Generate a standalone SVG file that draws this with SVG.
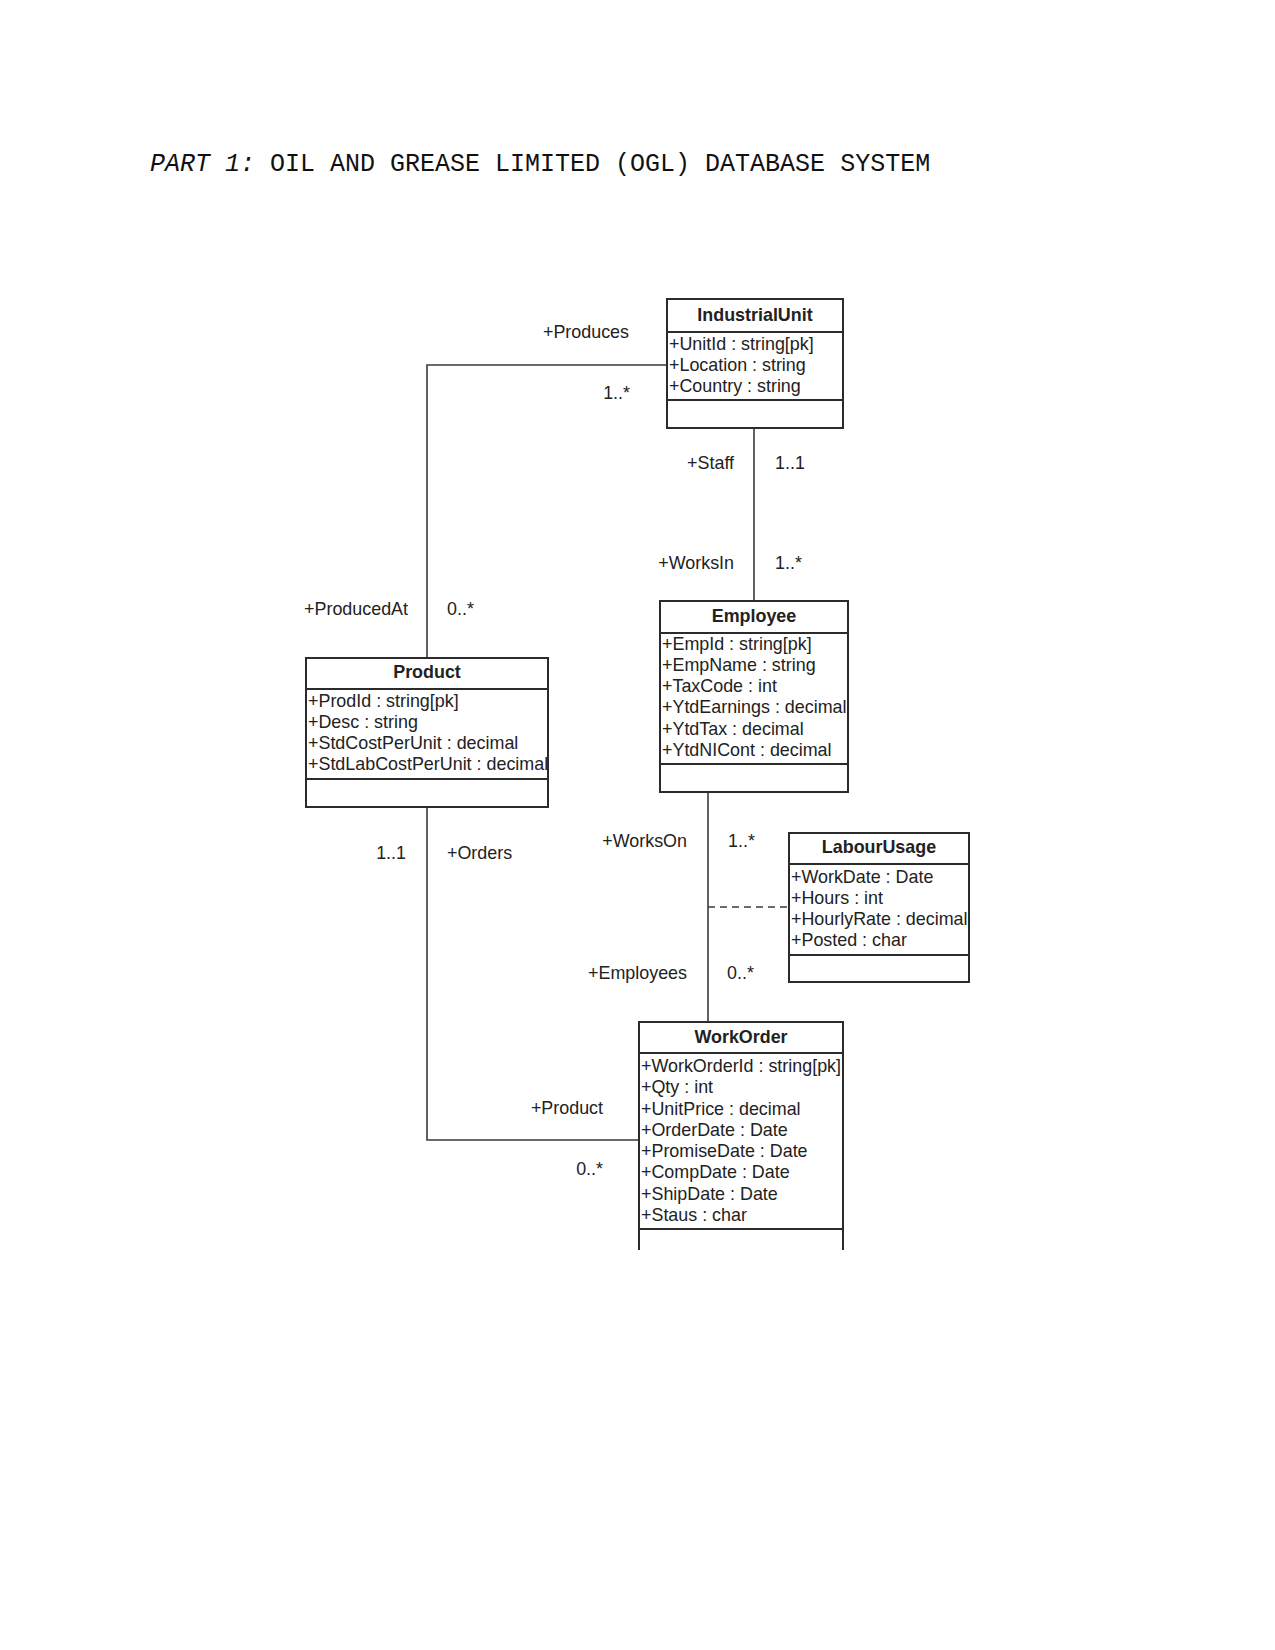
<svg xmlns="http://www.w3.org/2000/svg" width="1275" height="1650" viewBox="0 0 1275 1650">
<style>
.box{fill:#fff;stroke:#2b2b2b;stroke-width:2}
.sep{stroke:#2b2b2b;stroke-width:2}
.con{fill:none;stroke:#3a3a3a;stroke-width:1.6}
.dash{fill:none;stroke:#3a3a3a;stroke-width:1.6;stroke-dasharray:7,5}
.t{font-family:"Liberation Sans",Arial,sans-serif;font-size:17.9px;fill:#222}
.h{font-family:"Liberation Sans",Arial,sans-serif;font-size:17.9px;font-weight:bold;fill:#222;text-anchor:middle}
.r{text-anchor:end}
.title{font-family:"Liberation Mono","Courier New",monospace;font-size:25px;fill:#111}
</style>
<rect width="1275" height="1650" fill="#fff"/>
<text class="title" x="150" y="171"><tspan font-style="italic">PART 1:</tspan> OIL AND GREASE LIMITED (OGL) DATABASE SYSTEM</text>

<g id="connectors">
<path class="con" d="M667,365 H427 V658"/>
<path class="con" d="M754,428 V601"/>
<path class="con" d="M427,807 V1140 H639"/>
<path class="con" d="M708,792 V1022"/>
<path class="dash" d="M708,907 H789"/>
<text class="t r" x="629" y="338">+Produces</text>
<text class="t r" x="630" y="399">1..*</text>
<text class="t r" x="734" y="469">+Staff</text>
<text class="t" x="775" y="469">1..1</text>
<text class="t r" x="734" y="569">+WorksIn</text>
<text class="t" x="775" y="569">1..*</text>
<text class="t r" x="408" y="615">+ProducedAt</text>
<text class="t" x="447" y="615">0..*</text>
<text class="t r" x="406" y="859">1..1</text>
<text class="t" x="447" y="859">+Orders</text>
<text class="t r" x="687" y="847">+WorksOn</text>
<text class="t" x="728" y="847">1..*</text>
<text class="t r" x="687" y="979">+Employees</text>
<text class="t" x="727" y="979">0..*</text>
<text class="t r" x="603" y="1114">+Product</text>
<text class="t r" x="603" y="1175">0..*</text>
</g>

<g id="IndustrialUnit">
<rect class="box" x="667" y="299" width="176" height="129"/>
<line class="sep" x1="667" y1="332" x2="843" y2="332"/>
<line class="sep" x1="667" y1="400" x2="843" y2="400"/>
<text class="h" x="755" y="321">IndustrialUnit</text>
<text class="t" x="669" y="350">+UnitId : string[pk]</text>
<text class="t" x="669" y="371">+Location : string</text>
<text class="t" x="669" y="392">+Country : string</text>
</g>

<g id="Product">
<rect class="box" x="306" y="658" width="242" height="149"/>
<line class="sep" x1="306" y1="689" x2="548" y2="689"/>
<line class="sep" x1="306" y1="779" x2="548" y2="779"/>
<text class="h" x="427" y="678">Product</text>
<text class="t" x="308" y="707">+ProdId : string[pk]</text>
<text class="t" x="308" y="728">+Desc : string</text>
<text class="t" x="308" y="749">+StdCostPerUnit : decimal</text>
<text class="t" x="308" y="770">+StdLabCostPerUnit : decimal</text>
</g>

<g id="Employee">
<rect class="box" x="660" y="601" width="188" height="191"/>
<line class="sep" x1="660" y1="633" x2="848" y2="633"/>
<line class="sep" x1="660" y1="764" x2="848" y2="764"/>
<text class="h" x="754" y="622">Employee</text>
<text class="t" x="662" y="650">+EmpId : string[pk]</text>
<text class="t" x="662" y="671">+EmpName : string</text>
<text class="t" x="662" y="692">+TaxCode : int</text>
<text class="t" x="662" y="713">+YtdEarnings : decimal</text>
<text class="t" x="662" y="735">+YtdTax : decimal</text>
<text class="t" x="662" y="756">+YtdNICont : decimal</text>
</g>

<g id="LabourUsage">
<rect class="box" x="789" y="833" width="180" height="149"/>
<line class="sep" x1="789" y1="864" x2="969" y2="864"/>
<line class="sep" x1="789" y1="955" x2="969" y2="955"/>
<text class="h" x="879" y="853">LabourUsage</text>
<text class="t" x="791" y="883">+WorkDate : Date</text>
<text class="t" x="791" y="904">+Hours : int</text>
<text class="t" x="791" y="925">+HourlyRate : decimal</text>
<text class="t" x="791" y="946">+Posted : char</text>
</g>

<g id="WorkOrder">
<path class="box" d="M639,1250 V1022 H843 V1250"/>
<line class="sep" x1="639" y1="1053" x2="843" y2="1053"/>
<line class="sep" x1="639" y1="1229" x2="843" y2="1229"/>
<text class="h" x="741" y="1043">WorkOrder</text>
<text class="t" x="641" y="1072">+WorkOrderId : string[pk]</text>
<text class="t" x="641" y="1093">+Qty : int</text>
<text class="t" x="641" y="1115">+UnitPrice : decimal</text>
<text class="t" x="641" y="1136">+OrderDate : Date</text>
<text class="t" x="641" y="1157">+PromiseDate : Date</text>
<text class="t" x="641" y="1178">+CompDate : Date</text>
<text class="t" x="641" y="1200">+ShipDate : Date</text>
<text class="t" x="641" y="1221">+Staus : char</text>
</g>
</svg>
